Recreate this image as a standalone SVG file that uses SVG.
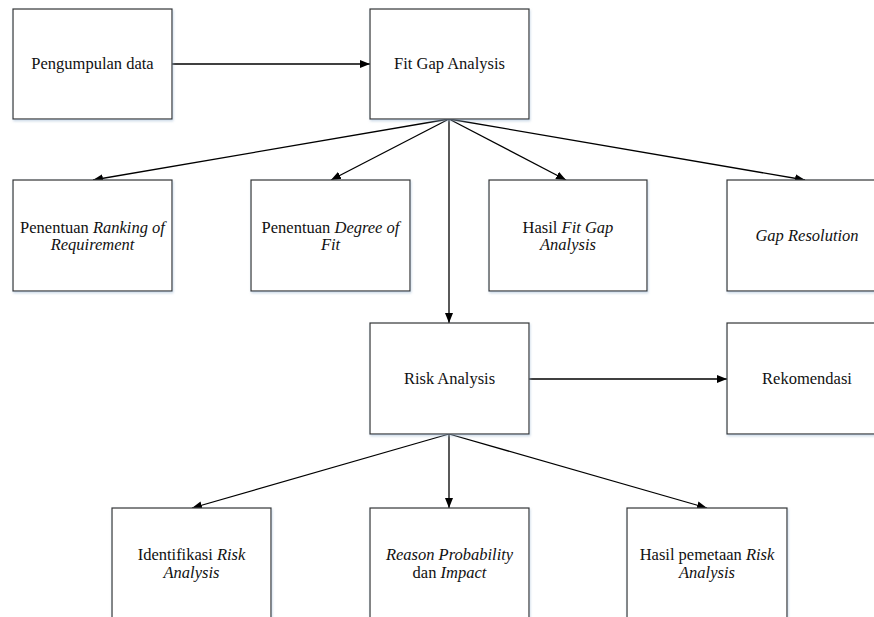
<svg xmlns="http://www.w3.org/2000/svg" width="874" height="617" viewBox="0 0 874 617">
  <defs>
    <marker id="arrow" viewBox="0 0 10 8" refX="10" refY="4" markerWidth="10" markerHeight="8" markerUnits="userSpaceOnUse" orient="auto">
      <path d="M0,0 L10,4 L0,8 Z" fill="#000"/>
    </marker>
    <filter id="soft" x="-5%" y="-5%" width="110%" height="115%">
      <feDropShadow dx="0.8" dy="1.6" stdDeviation="0.9" flood-color="#9fb8d2" flood-opacity="0.55"/>
    </filter>
  </defs>
  <style>
    .box { fill: #fff; stroke: #333; stroke-width: 1.2; filter: url(#soft); }
    .lbl { fill: #111; text-anchor: middle; }
    .it { font-style: italic; }
    .conn { stroke: #000; stroke-width: 1.3; fill: none; marker-end: url(#arrow); }
  </style>
  <rect width="874" height="617" fill="#fff"/>

  <!-- connectors -->
  <g id="connectors">
    <line class="conn" x1="172" y1="64" x2="370" y2="64"/>
    <line class="conn" x1="449" y1="119" x2="93" y2="180"/>
    <line class="conn" x1="449" y1="119" x2="331" y2="180"/>
    <line class="conn" x1="449" y1="119" x2="566" y2="180"/>
    <line class="conn" x1="449" y1="119" x2="805" y2="180"/>
    <line class="conn" x1="449" y1="119" x2="449" y2="323"/>
    <line class="conn" x1="529" y1="379" x2="727" y2="379"/>
    <line class="conn" x1="449" y1="434" x2="192" y2="508"/>
    <line class="conn" x1="449" y1="434" x2="449" y2="508"/>
    <line class="conn" x1="449" y1="434" x2="707" y2="508"/>
  </g>

  <g font-family="Liberation Serif, Times New Roman, serif" font-size="16.5">
    <g id="pengumpulan">
      <rect class="box" x="13" y="9" width="159" height="110"/>
      <text class="lbl" x="92.5" y="69">Pengumpulan data</text>
    </g>

    <g id="fitgap">
      <rect class="box" x="370" y="9" width="159" height="110"/>
      <text class="lbl" x="449.5" y="69">Fit Gap Analysis</text>
    </g>

    <g id="ranking">
      <rect class="box" x="13" y="180" width="159" height="111"/>
      <text class="lbl" x="92.5" y="233">Penentuan <tspan class="it">Ranking of</tspan></text>
      <text class="lbl it" x="92.5" y="250">Requirement</text>
    </g>

    <g id="degree">
      <rect class="box" x="251" y="180" width="159" height="111"/>
      <text class="lbl" x="330.5" y="233">Penentuan <tspan class="it">Degree of</tspan></text>
      <text class="lbl it" x="330.5" y="250">Fit</text>
    </g>

    <g id="hasilfitgap">
      <rect class="box" x="489" y="180" width="158" height="111"/>
      <text class="lbl" x="568" y="233">Hasil <tspan class="it">Fit Gap</tspan></text>
      <text class="lbl it" x="568" y="250">Analysis</text>
    </g>

    <g id="gapresolution">
      <rect class="box" x="727" y="180" width="159" height="111"/>
      <text class="lbl it" x="807" y="241">Gap Resolution</text>
    </g>

    <g id="risk">
      <rect class="box" x="370" y="323" width="159" height="111"/>
      <text class="lbl" x="449.5" y="384">Risk Analysis</text>
    </g>

    <g id="rekomendasi">
      <rect class="box" x="727" y="323" width="159" height="111"/>
      <text class="lbl" x="807" y="384">Rekomendasi</text>
    </g>

    <g id="identifikasi">
      <rect class="box" x="112" y="508" width="159" height="120"/>
      <text class="lbl" x="191.5" y="560">Identifikasi <tspan class="it">Risk</tspan></text>
      <text class="lbl it" x="191.5" y="578">Analysis</text>
    </g>

    <g id="reason">
      <rect class="box" x="370" y="508" width="159" height="120"/>
      <text class="lbl it" x="449.5" y="560">Reason Probability</text>
      <text class="lbl" x="449.5" y="578">dan <tspan class="it">Impact</tspan></text>
    </g>

    <g id="pemetaan">
      <rect class="box" x="627" y="508" width="160" height="120"/>
      <text class="lbl" x="707" y="560">Hasil pemetaan <tspan class="it">Risk</tspan></text>
      <text class="lbl it" x="707" y="578">Analysis</text>
    </g>
  </g>
</svg>
